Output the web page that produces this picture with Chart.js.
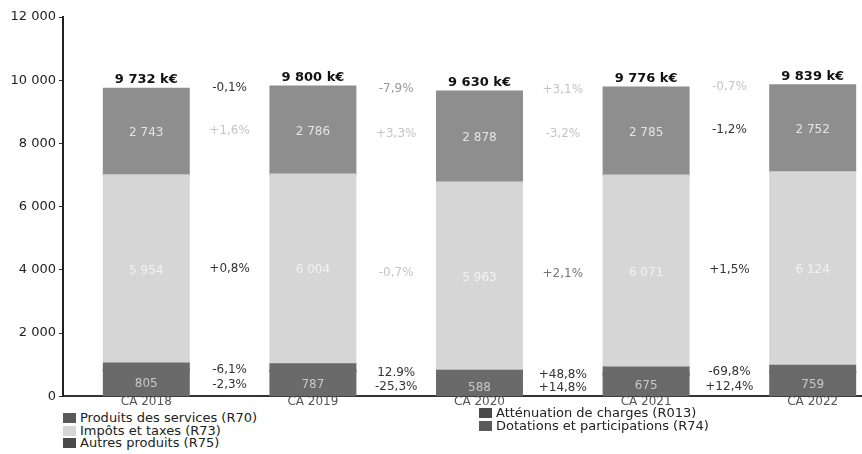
<!DOCTYPE html>
<html>
<head>
<meta charset="utf-8">
<script src="https://cdn.jsdelivr.net/npm/chart.js@4.4.1/dist/chart.umd.min.js"></script>
<style>
  html, body { margin: 0; padding: 0; background: #fff; overflow: hidden; width: 862px; height: 454px; }
  #wrap { position: relative; width: 896px; height: 454px; }
  canvas { position: absolute; left: 0; top: 0; }
  .leg { position: absolute; font-family: "DejaVu Sans", sans-serif; font-size: 13px; color: #222; line-height: 12.5px; }
  .leg div { white-space: nowrap; }
  .leg span { display: inline-block; width: 13px; height: 10px; margin-right: 4px; vertical-align: -1px; }
</style>
</head>
<body>
<div id="wrap">
  <canvas id="myChart" width="896" height="407"></canvas>
  <div class="leg" style="left:63px; top:412px;">
    <div><span style="background:#5a5a5a"></span>Produits des services (R70)</div>
    <div><span style="background:#d6d6d6"></span>Impôts et taxes (R73)</div>
    <div><span style="background:#4a4a4a"></span>Autres produits (R75)</div>
  </div>
  <div class="leg" style="left:479px; top:407px;">
    <div><span style="background:#4a4a4a"></span>Atténuation de charges (R013)</div>
    <div><span style="background:#5a5a5a"></span>Dotations et participations (R74)</div>
  </div>
</div>
<script>
const categories = ["CA 2018", "CA 2019", "CA 2020", "CA 2021", "CA 2022"]

// k€ per chapter
const produitsServices = [805, 787, 588, 675, 759]      // R70
const attenuationCharges = [31, 28, 32, 47, 14]         // R013
const autresProduits = [199, 199, 183, 189, 188]        // R75
const impotsTaxes = [5954, 6004, 5963, 6071, 6124]      // R73
const dotations = [2743, 2786, 2878, 2785, 2752]        // R74

const totalLabels = ["9 732 k€", "9 800 k€", "9 630 k€", "9 776 k€", "9 839 k€"]

// evolution between two years
const evolR75 = ["-0,1%", "-7,9%", "+3,1%", "-0,7%"]
const evolR74 = ["+1,6%", "+3,3%", "-3,2%", "-1,2%"]
const evolR73 = ["+0,8%", "-0,7%", "+2,1%", "+1,5%"]
const evolR013 = ["-6,1%", "12.9%", "+48,8%", "-69,8%"]
const evolR70 = ["-2,3%", "-25,3%", "+14,8%", "+12,4%"]

const yTicks = [0, 2000, 4000, 6000, 8000, 10000, 12000]

const fmt = v => String(v).replace(/\B(?=(\d{3})+(?!\d))/g, " ")

const labelsPlugin = {
    id: "labels",
    afterDatasetsDraw(chart) {
        const ctx = chart.ctx
        const metas = [0, 1, 2, 3, 4].map(i => chart.getDatasetMeta(i))
        const mid = (el) => (el.y + el.base) / 2
        ctx.save()
        ctx.textAlign = "center"
        ctx.textBaseline = "middle"

        // values inside the bars
        const inside = [[0, "#c9c9c9"], [3, "#f2f2f2"], [4, "#e4e4e4"]]
        inside.forEach(([di, col]) => {
            ctx.font = "12px 'DejaVu Sans'"
            ctx.fillStyle = col
            metas[di].data.forEach((el, j) => {
                ctx.fillText(fmt(chart.data.datasets[di].data[j]), el.x, mid(el) + 1)
            })
        })

        // totals
        ctx.font = "bold 13px 'DejaVu Sans'"
        ctx.fillStyle = "#111"
        metas[4].data.forEach((el, j) => {
            ctx.fillText(totalLabels[j], el.x, el.y - 9)
        })

        // evolutions
        ctx.font = "12px 'DejaVu Sans'"
        const rows = [
            [evolR75, "top", ["#333", "#999", "#c4c4c4", "#c4c4c4"]],
            [evolR74, 4, ["#c4c4c4", "#c4c4c4", "#c4c4c4", "#333"]],
            [evolR73, 3, ["#333", "#c4c4c4", "#777", "#333"]],
            [evolR013, 1, ["#333", "#333", "#333", "#333"]],
            [evolR70, 0, ["#333", "#333", "#333", "#333"]]
        ]
        rows.forEach(([texts, di, cols]) => {
            texts.forEach((t, j) => {
                const a = metas[di === "top" ? 4 : di].data[j]
                const b = metas[di === "top" ? 4 : di].data[j + 1]
                const x = (a.x + b.x) / 2
                let y
                if (di === "top") y = (a.y + b.y) / 2
                else if (di === 1) y = (mid(a) + mid(b)) / 2 - 1
                else if (di === 0) y = (mid(a) + mid(b)) / 2 + 2
                else y = (mid(a) + mid(b)) / 2
                ctx.fillStyle = cols[j]
                ctx.fillText(t, x, y)
            })
        })
        ctx.restore()
    }
}

const data = {
    labels: categories,
    datasets: [
        { label: "Produits des services (R70)", data: produitsServices, backgroundColor: "#6a6a6a" },
        { label: "Atténuation de charges (R013)", data: attenuationCharges, backgroundColor: "#6a6a6a" },
        { label: "Autres produits (R75)", data: autresProduits, backgroundColor: "#6a6a6a" },
        { label: "Impôts et taxes (R73)", data: impotsTaxes, backgroundColor: "#d6d6d6" },
        { label: "Dotations et participations (R74)", data: dotations, backgroundColor: "#8e8e8e" }
    ]
}

const config = {
    type: "bar",
    data: data,
    options: {
        responsive: false,
        animation: false,
        layout: { padding: { top: 17, bottom: 0, left: 0, right: 0 } },
        datasets: { bar: { categoryPercentage: 1, barPercentage: 0.51, inflateAmount: 1 } },
        plugins: {
            legend: { display: false },
            tooltip: { enabled: false }
        },
        scales: {
            x: {
                stacked: true,
                grid: { display: false, drawTicks: false },
                border: { display: true, color: "#333", width: 2 },
                ticks: {
                    color: "#555",
                    font: { family: "DejaVu Sans", size: 12 },
                    padding: -2
                }
            },
            y: {
                stacked: true,
                min: 0,
                max: 12000,
                afterFit: (scale) => { scale.width = 63 },
                afterBuildTicks: (scale) => { scale.ticks = yTicks.map(v => ({ value: v })) },
                grid: { drawOnChartArea: false, drawTicks: true, tickLength: 4, color: "#333" },
                border: { display: true, color: "#222", width: 2 },
                ticks: {
                    color: "#222",
                    padding: 3,
                    font: { family: "DejaVu Sans", size: 13 },
                    callback: (v) => fmt(v)
                }
            }
        }
    },
    plugins: [labelsPlugin]
}

const ctx = document.getElementById("myChart").getContext("2d")
new Chart(ctx, config)
</script>
</body>
</html>
